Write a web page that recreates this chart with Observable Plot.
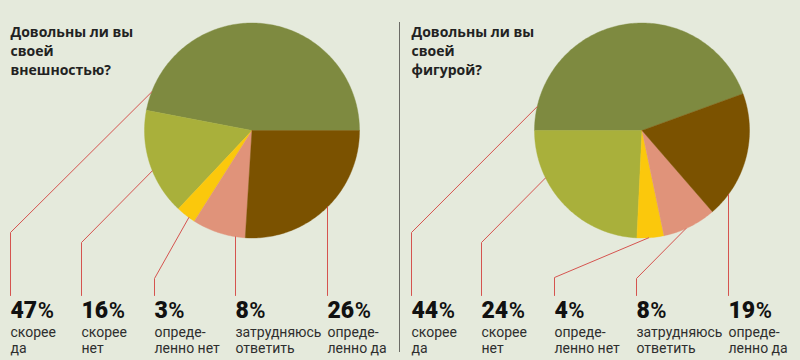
<!DOCTYPE html>
<html>
<head>
<meta charset="utf-8">
<script src="https://cdn.jsdelivr.net/npm/d3@7"></script>
<script src="https://cdn.jsdelivr.net/npm/@observablehq/plot@0.6"></script>
<style>
  html, body { margin: 0; padding: 0; background: #e5eadc; }
  svg { display: block; }
</style>
</head>
<body>
<div id="chart"></div>
<script>
// ---- data ----
const categories = ["скорее да", "скорее нет", "определенно нет", "затрудняюсь ответить", "определенно да"];
const labelLines = [["скорее", "да"], ["скорее", "нет"], ["опреде-", "ленно нет"], ["затрудняюсь", "ответить"], ["опреде-", "ленно да"]];
const appearanceValues = [47, 16, 3, 8, 26];
const figureValues = [44, 24, 4, 8, 19];
const titleAppearance = ["Довольны ли вы", "своей", "внешностью?"];
const titleFigure = ["Довольны ли вы", "своей", "фигурой?"];
const sliceColors = ["#7e8a40", "#a9b03b", "#fbc80c", "#e0937a", "#7b5200"];

// ---- layout ----
const panels = [
  {values: appearanceValues, title: titleAppearance, x0: 10, cx: 251.5, cy: 130, r: 107.5, startDeg: 0,
   labelX: [10, 81, 154, 235, 327], bendY: [232, 242, 278, null, null], anchorFrac: [0.94, 0.57, 0.67, null, null]},
  {values: figureValues, title: titleFigure, x0: 411, cx: 641.5, cy: 130, r: 107.5, startDeg: 20,
   labelX: [411, 481, 554, 636, 728], bendY: [232, 242, 277, 278, null], anchorFrac: [0.92, 0.30, 0.43, 0.42, null]}
];
const leaderBottom = 295;
const pctBaseline = 317;
const textLastBaseline = 352;
const titleBaselines = [33, 52, 71];
const pctFont = "900 23px Roboto";

const rad = d => d * Math.PI / 180;
const pt = (p, deg) => [p.cx + p.r * Math.cos(rad(deg)), p.cy - p.r * Math.sin(rad(deg))];

const slicePts = [];
const leaderPts = [];
const pctRows = [];
const labelRows = [];
const titleRows = [];

const canvas = document.createElement("canvas");
const ctx = canvas.getContext("2d");
ctx.font = pctFont;

panels.forEach((p, pi) => {
  const total = d3.sum(p.values);
  let a = p.startDeg;
  p.values.forEach((v, i) => {
    const a0 = a, a1 = a + v / total * 360;
    a = a1;
    const key = pi + "-" + i;
    slicePts.push({key, x: p.cx, y: p.cy, color: sliceColors[i]});
    const n = Math.max(2, Math.ceil(a1 - a0));
    for (let k = 0; k <= n; k++) {
      const [x, y] = pt(p, a0 + (a1 - a0) * k / n);
      slicePts.push({key, x, y, color: sliceColors[i]});
    }
    slicePts.push({key, x: p.cx, y: p.cy, color: sliceColors[i]});

    // leader line
    const lx = p.labelX[i];
    leaderPts.push({key, x: lx, y: leaderBottom});
    if (p.bendY[i] == null) {
      const dx = lx - p.cx;
      leaderPts.push({key, x: lx, y: p.cy + Math.sqrt(p.r * p.r - dx * dx)});
    } else {
      leaderPts.push({key, x: lx, y: p.bendY[i]});
      const [ex, ey] = pt(p, a0 + (a1 - a0) * p.anchorFrac[i]);
      leaderPts.push({key, x: ex, y: ey});
    }

    const digits = String(v);
    pctRows.push({x: lx, y: pctBaseline, t: digits, px: lx + ctx.measureText(digits).width + 0.5});
    labelRows.push({x: lx, y: textLastBaseline, t: labelLines[i].join("\n")});
  });
  titleRows.push({x: p.x0, y: titleBaselines[0], t: p.title.join("\n")});
});

const chart = Plot.plot({
  width: 800,
  height: 360,
  margin: 0,
  x: {domain: [0, 800], range: [0, 800], axis: null},
  y: {domain: [0, 360], range: [0, 360], axis: null},
  color: {type: "identity"},
  style: {background: "#e5eadc", fontFamily: "'Open Sans', sans-serif"},
  marks: [
    Plot.line(slicePts, {x: "x", y: "y", z: "key", fill: "color", stroke: "color", strokeWidth: 0.4, curve: "linear"}),
    Plot.line(leaderPts, {x: "x", y: "y", z: "key", stroke: "#d5544f", strokeWidth: 1, curve: "linear"}),
    Plot.ruleX([399], {y1: 22, y2: 352, stroke: "#6b6b66", strokeWidth: 1}),
    Plot.text(titleRows, {x: "x", y: "y", text: "t", textAnchor: "start", lineAnchor: "top", dy: -10,
      lineHeight: 19 / 14, fontSize: 14, fontWeight: 700, fill: "#222"}),
    Plot.text(pctRows, {x: "x", y: "y", text: "t", textAnchor: "start", lineAnchor: "bottom",
      fontSize: 23, fontWeight: 900, fontFamily: "Roboto, Lato, sans-serif", fill: "#111"}),
    Plot.text(pctRows, {x: "px", y: "y", text: () => "%", textAnchor: "start", lineAnchor: "bottom",
      fontSize: 22, fontWeight: 600, fontFamily: "Roboto, Lato, sans-serif", fill: "#111"}),
    Plot.text(labelRows, {x: "x", y: "y", text: "t", textAnchor: "start", lineAnchor: "bottom",
      lineHeight: 16 / 14, fontSize: 14, fontWeight: 400, fontFamily: "Roboto, sans-serif", fill: "#2e2e2e"})
  ]
});
document.getElementById("chart").appendChild(chart);
</script>
</body>
</html>
